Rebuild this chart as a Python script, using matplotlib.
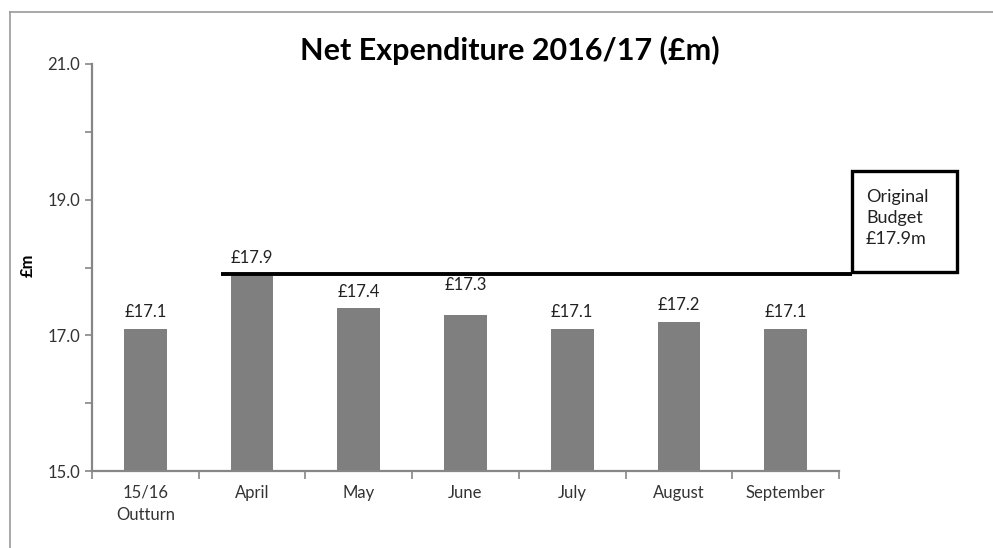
import matplotlib

matplotlib.use("Agg")
import matplotlib.pyplot as plt
from matplotlib.lines import Line2D
from matplotlib.patches import Rectangle

plt.rcParams["font.family"] = ["Lato", "DejaVu Sans"]

# --- data ------------------------------------------------------------------
categories = ["15/16\nOutturn", "April", "May", "June", "July", "August", "September"]
net_spend = [17.1, 17.9, 17.4, 17.3, 17.1, 17.2, 17.1]
original_budget = 17.9
y_major = [15.0, 17.0, 19.0, 21.0]
y_minor = [16.0, 18.0, 20.0]

# gap (points) between bar top and its label; June's label sits higher
label_pad = [6, 6, 6, 16, 6, 6, 6]

W, H = 993, 548
fig = plt.figure(figsize=(W / 100, H / 100), dpi=100)
ax = fig.add_axes([92 / W, 1 - 471 / H, (839 - 92) / W, (471 - 64) / H])

x = range(len(categories))
ax.bar(x, net_spend, width=0.40, color="#7f7f7f", zorder=2)
for xi, v, pad in zip(x, net_spend, label_pad):
    ax.annotate(f"£{v:.1f}", (xi, v), xytext=(0, pad), textcoords="offset points",
                ha="center", va="bottom", fontsize=12, color="#222222")

ax.set_xlim(-0.5, len(categories) - 0.5)
ax.set_ylim(y_major[0], y_major[-1])

# y axis: labelled majors every 2, unlabelled minors in between
ax.set_yticks(y_major)
ax.set_yticklabels([f"{v:.1f}" for v in y_major])
ax.set_yticks(y_minor, minor=True)
ax.tick_params(axis="y", which="both", direction="out", length=5, width=1.2,
               color="#868686", labelsize=12, labelcolor="#333333")

# x axis: tick marks on category boundaries, labels at centres
ax.set_xticks([i - 0.5 for i in range(len(categories) + 1)])
ax.set_xticklabels([])
ax.set_xticks(list(x), minor=True)
ax.set_xticklabels(categories, minor=True, linespacing=1.45, va="top")
ax.tick_params(axis="x", which="major", direction="out", length=6, width=1.2,
               color="#868686")
ax.tick_params(axis="x", which="minor", length=0, pad=10, labelsize=12,
               labelcolor="#333333")

for side in ("top", "right"):
    ax.spines[side].set_visible(False)
for side in ("left", "bottom"):
    ax.spines[side].set_color("#868686")
    ax.spines[side].set_linewidth(1.6)

fig.text(28 / W, 1 - 265 / H, "£m", rotation=90, ha="center", va="center",
         fontsize=12, fontweight="bold")

# original budget line running out to the callout box
ax.plot([0.71, 6.62], [original_budget, original_budget], color="black",
        lw=2.8, clip_on=False, zorder=3, solid_capstyle="butt")

fig.add_artist(Rectangle((852 / W, 1 - 272 / H), (957 - 852) / W, (272 - 171) / H,
                         transform=fig.transFigure, fill=False, edgecolor="black",
                         lw=2.4))
fig.text(866 / W, 1 - 218 / H, f"Original\nBudget\n£{original_budget:.1f}m",
         ha="left", va="center", fontsize=13, linespacing=1.4, color="#222222")

fig.text(510 / W, 1 - 50 / H, "Net Expenditure 2016/17 (£m)", ha="center",
         va="center", fontsize=22, fontweight="bold")

# chart-area frame
fig.add_artist(Line2D([10 / W, 10 / W], [0, 1 - 12 / H], color="#9a9a9a", lw=1.2))
fig.add_artist(Line2D([10 / W, 1], [1 - 12 / H, 1 - 12 / H], color="#9a9a9a", lw=1.2))

fig.savefig("out.png", dpi=100)
